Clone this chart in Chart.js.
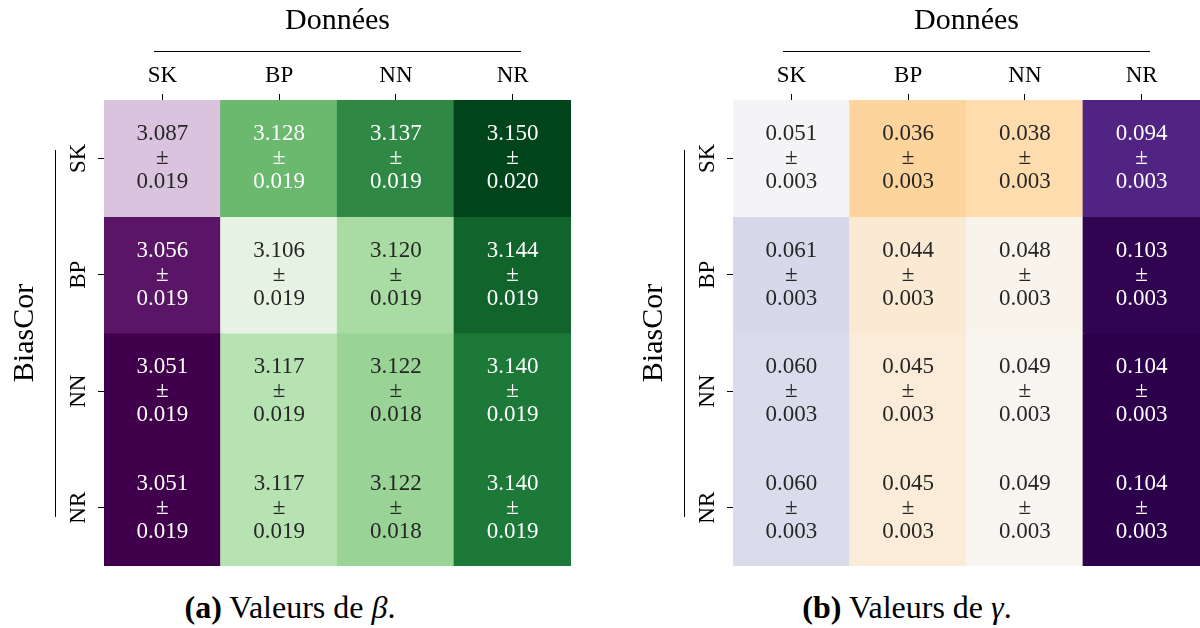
<!DOCTYPE html>
<html>
<head>
<meta charset="utf-8">
<script src="https://cdn.jsdelivr.net/npm/chart.js@4.4.1/dist/chart.umd.min.js"></script>
<style>
  body { margin: 0; background: #fff; width: 1200px; height: 628px; position: relative; overflow: hidden; }
  .panneau { position: absolute; top: 0; width: 571px; height: 566px; }
  #panneauA { left: 0; }
  #panneauB { left: 629px; }
  canvas { position: absolute; left: 0; top: 0; }
  .legende { position: absolute; top: 589px; width: 400px; text-align: center; white-space: nowrap;
    font-family: "Liberation Serif", "DejaVu Serif", serif; font-size: 32px; line-height: 36px; color: #000; }
  #legendeA { left: 90px; }
  #legendeB { left: 707px; }
</style>
</head>
<body>
<div class="panneau" id="panneauA"><canvas id="betaChart" width="571" height="566"></canvas></div>
<div class="panneau" id="panneauB"><canvas id="gammaChart" width="571" height="566"></canvas></div>
<div class="legende" id="legendeA"><b>(a)</b> Valeurs de <i>β</i>.</div>
<div class="legende" id="legendeB"><b>(b)</b> Valeurs de <i>γ</i>.</div>
<script>
const FONT = '"Liberation Serif", "DejaVu Serif", serif';

// catégories
const donnees = ["SK", "BP", "NN", "NR"];
const biasCor = ["SK", "BP", "NN", "NR"];

// beta : une ligne par BiasCor, une colonne par Données
const betaSK = [3.087, 3.128, 3.137, 3.150];
const betaBP = [3.056, 3.106, 3.120, 3.144];
const betaNN = [3.051, 3.117, 3.122, 3.140];
const betaNR = [3.051, 3.117, 3.122, 3.140];
const betaErrSK = [0.019, 0.019, 0.019, 0.020];
const betaErrBP = [0.019, 0.019, 0.019, 0.019];
const betaErrNN = [0.019, 0.019, 0.018, 0.019];
const betaErrNR = [0.019, 0.019, 0.018, 0.019];

// gamma
const gammaSK = [0.051, 0.036, 0.038, 0.094];
const gammaBP = [0.061, 0.044, 0.048, 0.103];
const gammaNN = [0.060, 0.045, 0.049, 0.104];
const gammaNR = [0.060, 0.045, 0.049, 0.104];
const gammaErrSK = [0.003, 0.003, 0.003, 0.003];
const gammaErrBP = [0.003, 0.003, 0.003, 0.003];
const gammaErrNN = [0.003, 0.003, 0.003, 0.003];
const gammaErrNR = [0.003, 0.003, 0.003, 0.003];

// palettes (ColorBrewer, comme matplotlib)
const PRGn = ["#40004b", "#762a83", "#9970ab", "#c2a5cf", "#e7d4e8", "#f7f7f7",
  "#d9f0d3", "#a6dba0", "#5aae61", "#1b7837", "#00441b"];
const PuOr = ["#7f3b08", "#b35806", "#e08214", "#fdb863", "#fee0b6", "#f7f7f7",
  "#d8daeb", "#b2abd2", "#8073ac", "#542788", "#2d004b"];

const hexToRgb = (h) => [1, 3, 5].map((i) => parseInt(h.slice(i, i + 2), 16));

function couleur(palette, t) {
  t = Math.min(1, Math.max(0, t));
  const pos = t * (palette.length - 1);
  const i = Math.min(palette.length - 2, Math.floor(pos));
  const f = pos - i;
  const a = hexToRgb(palette[i]);
  const b = hexToRgb(palette[i + 1]);
  return a.map((v, k) => Math.round(v + (b[k] - v) * f));
}

// luminance relative, même règle que seaborn pour la couleur du texte
function luminance(rgb) {
  const c = rgb.map((v) => {
    v = v / 255;
    return v <= 0.03928 ? v / 12.92 : Math.pow((v + 0.055) / 1.055, 2.4);
  });
  return 0.2126 * c[0] + 0.7152 * c[1] + 0.0722 * c[2];
}

// traits, BiasCor et annotations des cellules
const decorPlugin = {
  id: "decor",
  afterDatasetsDraw(chart) {
    const { ctx, scales } = chart;
    const info = chart.options.plugins.decor;
    ctx.save();
    ctx.font = "23px " + FONT;
    ctx.textAlign = "center";
    ctx.textBaseline = "middle";
    info.lignes.forEach((ligne, r) => {
      ligne.forEach((val, c) => {
        const x = scales.x.getPixelForValue(c);
        const y = scales.y.getPixelForValue(r + 0.5);
        const rgb = info.rgb[r][c];
        ctx.fillStyle = luminance(rgb) > 0.408 ? "#262626" : "#ffffff";
        ctx.fillText(val.toFixed(3), x, y - 24);
        ctx.fillText("±", x, y);
        ctx.fillText(info.erreurs[r][c].toFixed(3), x, y + 24);
      });
    });
    ctx.restore();
  },
  afterDraw(chart) {
    const { ctx, chartArea } = chart;
    ctx.save();
    ctx.strokeStyle = "#000";
    ctx.lineWidth = 1;
    ctx.beginPath();
    ctx.moveTo(chartArea.left + 50, 51.5);
    ctx.lineTo(chartArea.right - 50, 51.5);
    ctx.moveTo(chartArea.left - 48.5, chartArea.top + 50);
    ctx.lineTo(chartArea.left - 48.5, chartArea.bottom - 49);
    ctx.stroke();
    ctx.translate(25, (chartArea.top + chartArea.bottom) / 2);
    ctx.rotate(-Math.PI / 2);
    ctx.font = "30px " + FONT;
    ctx.fillStyle = "#000";
    ctx.textAlign = "center";
    ctx.textBaseline = "middle";
    ctx.fillText("BiasCor", 0, 0);
    ctx.restore();
  }
};

function heatmap(id, lignes, erreurs, palette, vmin, vmax) {
  const rgb = lignes.map((ligne) => ligne.map((v) => couleur(palette, (v - vmin) / (vmax - vmin))));
  const datasets = lignes.map((ligne, r) => ({
    label: biasCor[r],
    data: ligne.map(() => [r, r + 1]),
    backgroundColor: rgb[r].map((c) => `rgb(${c[0]},${c[1]},${c[2]})`),
    borderWidth: 0,
    inflateAmount: 0.6,
    barPercentage: 1,
    categoryPercentage: 1,
    grouped: false
  }));

  return new Chart(document.getElementById(id), {
    type: "bar",
    data: { labels: donnees, datasets },
    options: {
      responsive: false,
      animation: false,
      layout: { padding: 0 },
      plugins: {
        legend: { display: false },
        tooltip: { enabled: false },
        decor: { lignes, erreurs, rgb }
      },
      scales: {
        x: {
          position: "top",
          offset: true,
          grid: { drawOnChartArea: false, drawTicks: true, tickLength: 6, offset: false, color: "#000", lineWidth: 1 },
          border: { display: false },
          ticks: { color: "#000", font: { family: FONT, size: 23 }, padding: 4, maxRotation: 0 },
          title: { display: true, text: "Données", color: "#000", font: { family: FONT, size: 30 }, padding: { top: 3, bottom: 0 } },
          afterFit(scale) { scale.height = 100; }
        },
        y: {
          type: "linear",
          position: "left",
          min: 0,
          max: 4,
          reverse: true,
          afterBuildTicks(scale) {
            scale.ticks = biasCor.map((_, i) => ({ value: i + 0.5 }));
          },
          grid: { drawOnChartArea: false, drawTicks: true, tickLength: 6, color: "#000", lineWidth: 1 },
          border: { display: false },
          ticks: {
            color: "#000",
            font: { family: FONT, size: 23 },
            minRotation: 90,
            maxRotation: 90,
            crossAlign: "center",
            padding: 2,
            callback: (v) => biasCor[Math.floor(v)]
          },
          afterFit(scale) {
            scale.width = 104;
            scale.paddingTop = 0;
            scale.paddingBottom = 0;
          }
        }
      }
    },
    plugins: [decorPlugin]
  });
}

const betaLignes = [betaSK, betaBP, betaNN, betaNR];
const betaErreurs = [betaErrSK, betaErrBP, betaErrNN, betaErrNR];
const gammaLignes = [gammaSK, gammaBP, gammaNN, gammaNR];
const gammaErreurs = [gammaErrSK, gammaErrBP, gammaErrNN, gammaErrNR];

const betaTous = betaLignes.flat();
heatmap("betaChart", betaLignes, betaErreurs, PRGn, Math.min(...betaTous), Math.max(...betaTous));

// gamma : palette centrée (à la seaborn) sur 0.05
const gammaTous = gammaLignes.flat();
const gammaCentre = 0.05;
const gammaEcart = Math.max(Math.max(...gammaTous) - gammaCentre, gammaCentre - Math.min(...gammaTous));
heatmap("gammaChart", gammaLignes, gammaErreurs, PuOr, gammaCentre - gammaEcart, gammaCentre + gammaEcart);
</script>
</body>
</html>
